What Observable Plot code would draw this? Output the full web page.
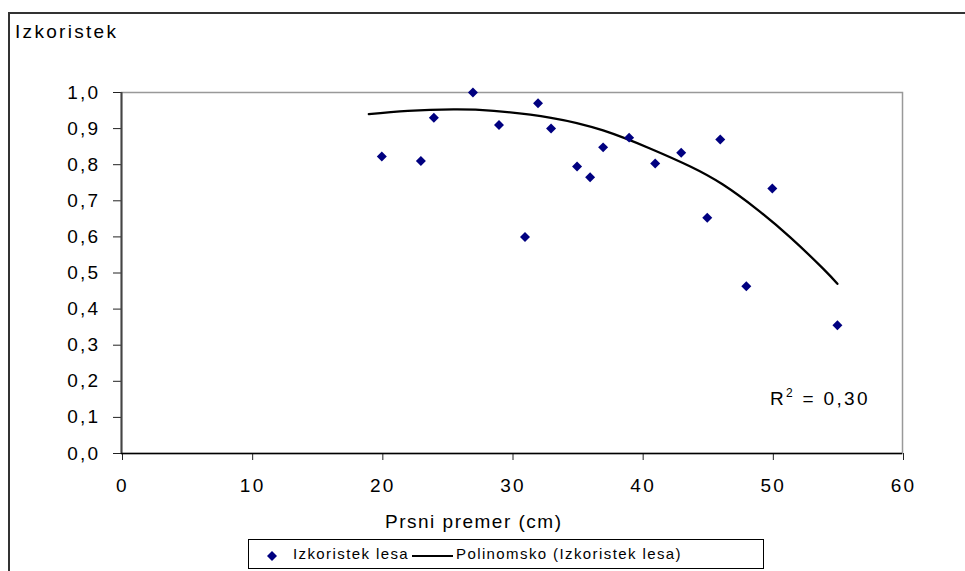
<!DOCTYPE html>
<html>
<head>
<meta charset="utf-8">
<script src="https://cdn.jsdelivr.net/npm/d3@7"></script>
<script src="https://cdn.jsdelivr.net/npm/@observablehq/plot@0.6"></script>
<style>
  html, body { margin: 0; padding: 0; background: #fff; }
  #wrap { position: relative; width: 965px; height: 571px; overflow: hidden; font-family: "Liberation Sans", Arial, sans-serif; color: #000; }
  #outer { position: absolute; left: 8px; top: 12px; width: 1000px; height: 600px; border-left: 2px solid #333; border-top: 2px solid #333; box-sizing: border-box; }
  .txt { position: absolute; font-size: 19px; line-height: 19px; letter-spacing: 2.3px; white-space: nowrap; }
  #legend { position: absolute; left: 248px; top: 539px; width: 516px; height: 30px; border: 1px solid #000; box-sizing: border-box; background: #fff; font-size: 15px; letter-spacing: 1.4px; }
  #legend span { position: absolute; top: 6px; line-height: 15px; white-space: nowrap; }
  #plot { position: absolute; left: 0; top: 0; }
</style>
</head>
<body>
<div id="wrap">
  <div id="outer"></div>
  <div id="plot"></div>
  <div class="txt" style="left:15px; top:22px;">Izkoristek</div>
  <div class="txt" style="left:385px; top:512px; letter-spacing:1.5px;">Prsni premer (cm)</div>
  <div class="txt" style="left:770px; top:389px;">R<sup style="font-size:12px; vertical-align: 8px; line-height:0;">2</sup> = 0,30</div>
  <div id="legend">
    <svg style="position:absolute; left:0; top:0;" width="516" height="30">
      <path d="M23,11 L28,16 L23,21 L18,16 Z" fill="#000080"></path>
      <line x1="163" x2="204" y1="16" y2="16" stroke="#000" stroke-width="2.2"></line>
    </svg>
    <span style="left:44px;">Izkoristek lesa</span>
    <span style="left:207px;">Polinomsko (Izkoristek lesa)</span>
  </div>
</div>
<script>
// Observed points: breast-height diameter (cm) vs. timber yield
const diameter = [20, 23, 24, 27, 29, 31, 32, 33, 35, 36, 37, 39, 41, 43, 45, 46, 48, 50, 55];
const yieldValues = [0.823, 0.81, 0.93, 1.0, 0.91, 0.60, 0.97, 0.90, 0.795, 0.765, 0.848, 0.875, 0.803, 0.833, 0.653, 0.87, 0.463, 0.734, 0.355];

// Polynomial trend line
const trendX = [19, 22, 25.5, 28.6, 33, 37, 40.6, 43.7, 46.2, 48.8, 51.4, 53.9, 55];
const trendY = [0.940, 0.949, 0.953, 0.949, 0.930, 0.895, 0.845, 0.795, 0.745, 0.677, 0.598, 0.512, 0.47];

// Tick values
const xTicks = [0, 10, 20, 30, 40, 50, 60];
const yTicks = [0, 0.1, 0.2, 0.3, 0.4, 0.5, 0.6, 0.7, 0.8, 0.9, 1.0];

const points = diameter.map((d, i) => ({x: d, y: yieldValues[i]}));
const trend = trendX.map((d, i) => ({x: d, y: trendY[i]}));
const fmtY = d => d3.format(".1f")(d).replace(".", ",");

const chart = Plot.plot({
  width: 965,
  height: 571,
  marginLeft: 121,
  marginRight: 63,
  marginTop: 92,
  marginBottom: 118,
  style: {fontFamily: "'Liberation Sans', Arial, sans-serif", fontSize: "19px", letterSpacing: "2.3px", color: "#000", background: "transparent", overflow: "visible"},
  x: {domain: [0, 60], label: null},
  y: {domain: [0, 1], label: null},
  marks: [
    Plot.frame({stroke: "#999", strokeWidth: 1.5}),
    Plot.axisY({ticks: yTicks, tickSize: 8, tickPadding: 13, tickFormat: fmtY, label: null, stroke: "#222"}),
    Plot.axisX({ticks: xTicks, tickSize: 7, tickPadding: 18, tickFormat: d => String(d), label: null, stroke: "#222", dx: 1}),
    Plot.ruleX([0], {stroke: "#444", strokeWidth: 2}),
    Plot.ruleY([0], {stroke: "#000", strokeWidth: 1.5}),
    Plot.line(trend, {x: "x", y: "y", curve: "natural", stroke: "#000", strokeWidth: 2.3}),
    Plot.dot(points, {x: "x", y: "y", symbol: "diamond2", r: 4.5, fill: "#000080", stroke: "none"})
  ]
});
document.getElementById("plot").appendChild(chart);
</script>
</body>
</html>
